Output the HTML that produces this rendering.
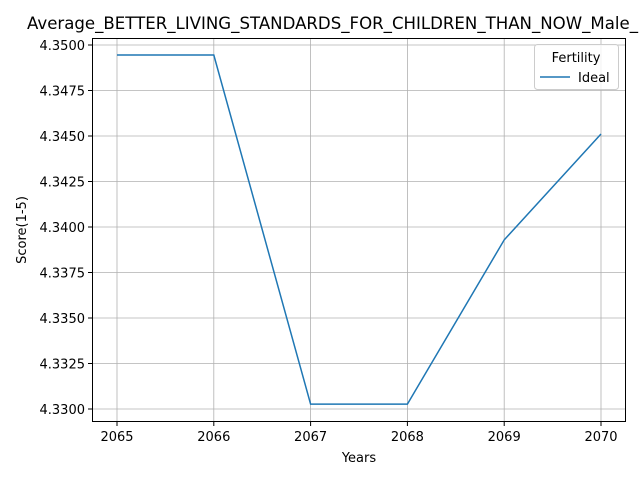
<!DOCTYPE html>
<html><head><meta charset="utf-8"><style>
body{margin:0;background:#fff;}
svg{font-family:"DejaVu Sans","Liberation Sans",sans-serif;}
</style></head><body>
<svg id="chart" width="640" height="480">
<rect x="0" y="0" width="640" height="480" fill="#fff"/>
<text x="27" y="29" font-size="16.5" textLength="611" lengthAdjust="spacingAndGlyphs" fill="#000">Average_BETTER_LIVING_STANDARDS_FOR_CHILDREN_THAN_NOW_Male_</text>
<g id="grid"></g>
<g id="ticks"></g>
<rect x="92.5" y="38.5" width="533" height="383" fill="none" stroke="#000" stroke-width="1"/>
<g id="series"></g>
<text x="359" y="462" font-size="13" text-anchor="middle">Years</text>
<text x="26" y="230" font-size="13" text-anchor="middle" transform="rotate(-90 26 230)">Score(1-5)</text>
<g>
<rect x="534.5" y="44.5" width="84" height="45" rx="3" fill="#fff" fill-opacity="0.8" stroke="#ccc"/>
<text x="576" y="62" font-size="13" text-anchor="middle">Fertility</text>
<line x1="540" y1="77" x2="570" y2="77" stroke="#1f77b4" stroke-width="1.5"/>
<text x="578" y="82" font-size="13">Ideal</text>
</g>
</svg>
<script>
const years=[2065,2066,2067,2068,2069,2070];
const ideal=[4.34945,4.34945,4.33027,4.33027,4.33929,4.34511];
const yTicks=[4.3300,4.3325,4.3350,4.3375,4.3400,4.3425,4.3450,4.3475,4.3500];
const NS="http://www.w3.org/2000/svg";
function xs(v){return 117+(v-2065)*96.8;}
function ys(v){return 409-(v-4.33)/0.02*364;}
const grid=document.getElementById('grid'),ticks=document.getElementById('ticks'),series=document.getElementById('series');
function mk(tag,attrs,parent){const e=document.createElementNS(NS,tag);for(const k in attrs)e.setAttribute(k,attrs[k]);parent.appendChild(e);return e;}
years.forEach(y=>{
  const x=xs(y);
  const g=mk('line',{x1:x,y1:38,x2:x,y2:422,stroke:'#b0b0b0','stroke-width':0.8},grid);
  
  
  mk('line',{x1:x,y1:422,x2:x,y2:426,stroke:'#000'},ticks);
  const t=mk('text',{x:x,y:441,'font-size':13,'text-anchor':'middle'},ticks);
  t.textContent=y;
  
  
});
yTicks.forEach(v=>{
  const y=ys(v);
  const g=mk('line',{x1:92,y1:y,x2:626,y2:y,stroke:'#b0b0b0','stroke-width':0.8},grid);
  
  
  mk('line',{x1:88,y1:y,x2:92,y2:y,stroke:'#000'},ticks);
  const t=mk('text',{x:85,y:y+5,'font-size':13,'text-anchor':'end'},ticks);
  t.textContent=v.toFixed(4);
  
  
});
const pts=years.map((y,i)=>xs(y)+','+ys(ideal[i])).join(' ');
const pl=mk('polyline',{points:pts,fill:'none',stroke:'#1f77b4','stroke-width':1.5},series);


</script>
</body></html>
